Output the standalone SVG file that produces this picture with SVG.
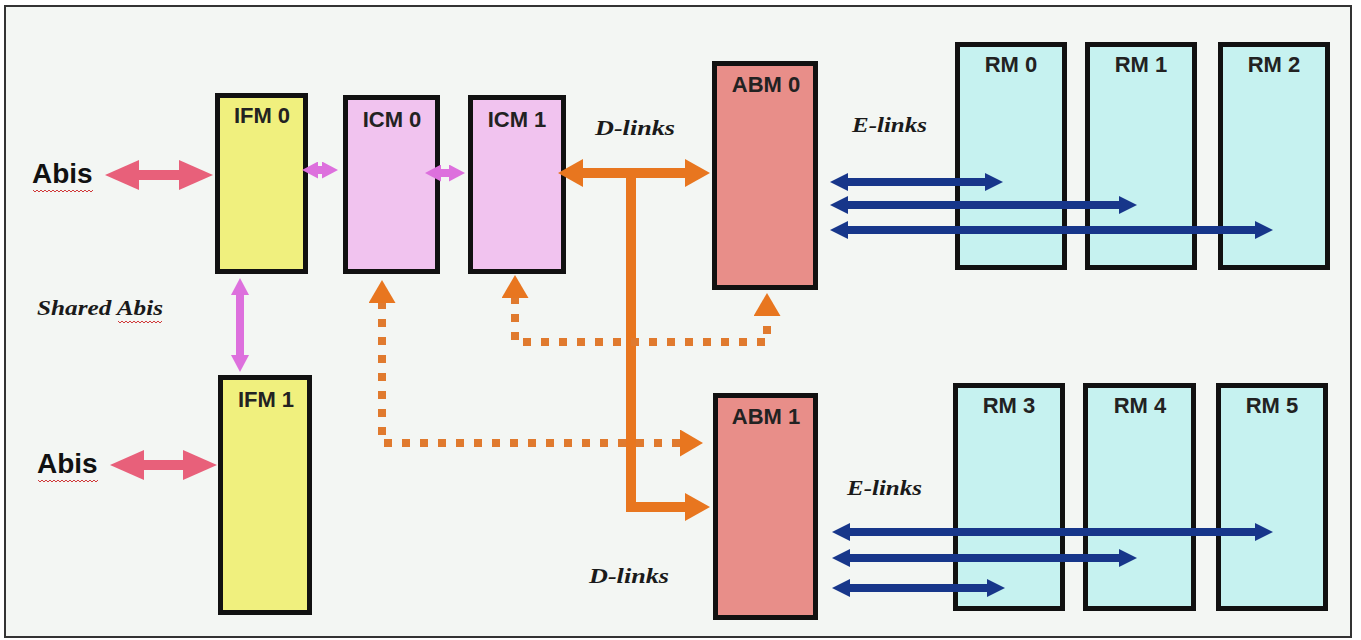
<svg xmlns="http://www.w3.org/2000/svg" width="1361" height="640" viewBox="0 0 1361 640">
<style>
.box{stroke:#111;stroke-width:5}
.ifm{fill:#f0f07e}
.icm{fill:#f1c3ef}
.abm{fill:#e88e89}
.rm{fill:#c6f2f0}
.lbl{font-family:"Liberation Sans",Arial,sans-serif;font-weight:bold;font-size:22px;fill:#222;text-anchor:middle}
.abis{font-family:"Liberation Sans",Arial,sans-serif;font-weight:bold;font-size:28px;fill:#111}
.it{font-family:"Liberation Serif","Times New Roman",serif;font-style:italic;font-weight:bold;font-size:22px;fill:#1a1a1a}
.pink{stroke:#e8607a;stroke-width:10;fill:none}
.vio{stroke:#dd70dd;stroke-width:8;fill:none}
.org{stroke:#e8761f;stroke-width:10;fill:none}
.dot{stroke:#e07a2e;stroke-width:8;fill:none;stroke-dasharray:8 10}
.blue{stroke:#17368a;stroke-width:8;fill:none}
.sq{stroke:#d03a3a;stroke-width:1;fill:none}
</style>
<defs>
<marker id="mPink" markerUnits="userSpaceOnUse" viewBox="0 0 34 30" markerWidth="34" markerHeight="30" refX="3" refY="15" orient="auto-start-reverse"><path d="M0,0 L34,15 L0,30 z" fill="#e8607a"/></marker>
<marker id="mVio" markerUnits="userSpaceOnUse" viewBox="0 0 16 17" markerWidth="16" markerHeight="17" refX="2" refY="8.5" orient="auto-start-reverse"><path d="M0,0 L16,8.5 L0,17 z" fill="#dd70dd"/></marker>
<marker id="mVio2" markerUnits="userSpaceOnUse" viewBox="0 0 17 18" markerWidth="17" markerHeight="18" refX="2" refY="9" orient="auto-start-reverse"><path d="M0,0 L17,9 L0,18 z" fill="#dd70dd"/></marker>
<marker id="mOrg" markerUnits="userSpaceOnUse" viewBox="0 0 25 28" markerWidth="25" markerHeight="28" refX="2" refY="14" orient="auto-start-reverse"><path d="M0,0 L25,14 L0,28 z" fill="#e8761f"/></marker>
<marker id="mDot" markerUnits="userSpaceOnUse" viewBox="0 0 23 27" markerWidth="23" markerHeight="27" refX="2" refY="13.5" orient="auto-start-reverse"><path d="M0,0 L23,13.5 L0,27 z" fill="#e8761f"/></marker>
<marker id="mBlue" markerUnits="userSpaceOnUse" viewBox="0 0 18 18" markerWidth="18" markerHeight="18" refX="2" refY="9" orient="auto-start-reverse"><path d="M0,0 L18,9 L0,18 z" fill="#17368a"/></marker>
</defs>
<rect x="0" y="0" width="1361" height="640" fill="#ffffff"/>
<rect id="frame" x="5" y="6" width="1346" height="631" fill="#f3f6f3" stroke="#333" stroke-width="2"/>

<g id="IFM0"><rect class="box ifm" x="217.5" y="95.5" width="88" height="176"/><text class="lbl" x="262" y="123">IFM 0</text></g>
<g id="IFM1"><rect class="box ifm" x="220.5" y="377.5" width="89" height="235"/><text class="lbl" x="266" y="407">IFM 1</text></g>
<g id="ICM0"><rect class="box icm" x="345.5" y="97.5" width="92" height="174"/><text class="lbl" x="392" y="127">ICM 0</text></g>
<g id="ICM1"><rect class="box icm" x="470.5" y="97.5" width="93" height="174"/><text class="lbl" x="517" y="127">ICM 1</text></g>
<g id="ABM0"><rect class="box abm" x="714.5" y="63.5" width="101" height="224"/><text class="lbl" x="766" y="92">ABM 0</text></g>
<g id="ABM1"><rect class="box abm" x="715.5" y="395.5" width="100" height="222"/><text class="lbl" x="766" y="424">ABM 1</text></g>
<g id="RM0"><rect class="box rm" x="957.5" y="44.5" width="107" height="223"/><text class="lbl" x="1011" y="72">RM 0</text></g>
<g id="RM1"><rect class="box rm" x="1087.5" y="44.5" width="107" height="223"/><text class="lbl" x="1141" y="72">RM 1</text></g>
<g id="RM2"><rect class="box rm" x="1220.5" y="44.5" width="107" height="223"/><text class="lbl" x="1274" y="72">RM 2</text></g>
<g id="RM3"><rect class="box rm" x="955.5" y="385.5" width="107" height="223"/><text class="lbl" x="1009" y="413">RM 3</text></g>
<g id="RM4"><rect class="box rm" x="1085.5" y="385.5" width="108" height="223"/><text class="lbl" x="1140" y="413">RM 4</text></g>
<g id="RM5"><rect class="box rm" x="1218.5" y="385.5" width="107" height="223"/><text class="lbl" x="1272" y="413">RM 5</text></g>

<g id="connectors">
<line class="pink" x1="136" y1="175" x2="182" y2="175" marker-start="url(#mPink)" marker-end="url(#mPink)"/>
<line class="pink" x1="141" y1="465" x2="186" y2="465" marker-start="url(#mPink)" marker-end="url(#mPink)"/>
<line class="vio" x1="316" y1="170" x2="324" y2="170" marker-start="url(#mVio)" marker-end="url(#mVio)"/>
<line class="vio" x1="439" y1="173" x2="451" y2="173" marker-start="url(#mVio)" marker-end="url(#mVio)"/>
<line class="vio" x1="240" y1="293" x2="240" y2="357" marker-start="url(#mVio2)" marker-end="url(#mVio2)"/>
<line class="org" x1="581" y1="173" x2="687" y2="173" marker-start="url(#mOrg)" marker-end="url(#mOrg)"/>
<path class="org" d="M631,173 V507 H687" marker-end="url(#mOrg)"/>
<path class="dot" d="M382,301 V443 H682" marker-start="url(#mDot)" marker-end="url(#mDot)"/>
<path class="dot" d="M515,296 V342 H767 V314" marker-start="url(#mDot)" marker-end="url(#mDot)"/>
<line class="blue" x1="846" y1="182" x2="987" y2="182" marker-start="url(#mBlue)" marker-end="url(#mBlue)"/>
<line class="blue" x1="846" y1="205" x2="1121" y2="205" marker-start="url(#mBlue)" marker-end="url(#mBlue)"/>
<line class="blue" x1="846" y1="230" x2="1257" y2="230" marker-start="url(#mBlue)" marker-end="url(#mBlue)"/>
<line class="blue" x1="848" y1="532" x2="1257" y2="532" marker-start="url(#mBlue)" marker-end="url(#mBlue)"/>
<line class="blue" x1="848" y1="558" x2="1121" y2="558" marker-start="url(#mBlue)" marker-end="url(#mBlue)"/>
<line class="blue" x1="848" y1="588" x2="989" y2="588" marker-start="url(#mBlue)" marker-end="url(#mBlue)"/>
</g>

<g id="labels">
<text class="abis" x="32" y="183">Abis</text>
<path class="sq" d="M33,190 l2,2 2,-2 2,2 2,-2 2,2 2,-2 2,2 2,-2 2,2 2,-2 2,2 2,-2 2,2 2,-2 2,2 2,-2 2,2 2,-2 2,2 2,-2 2,2 2,-2 2,2 2,-2 2,2 2,-2 2,2 2,-2 2,2 2,-2"/>
<text class="abis" x="37" y="473">Abis</text>
<path class="sq" d="M38,480 l2,2 2,-2 2,2 2,-2 2,2 2,-2 2,2 2,-2 2,2 2,-2 2,2 2,-2 2,2 2,-2 2,2 2,-2 2,2 2,-2 2,2 2,-2 2,2 2,-2 2,2 2,-2 2,2 2,-2 2,2 2,-2 2,2 2,-2"/>
<text class="it" x="37" y="315" font-size="21" textLength="126" lengthAdjust="spacingAndGlyphs">Shared Abis</text>
<path class="sq" d="M118,321 l2,2 2,-2 2,2 2,-2 2,2 2,-2 2,2 2,-2 2,2 2,-2 2,2 2,-2 2,2 2,-2 2,2 2,-2 2,2 2,-2 2,2 2,-2 2,2 2,-2"/>
<text class="it" x="595" y="135" textLength="80" lengthAdjust="spacingAndGlyphs">D-links</text>
<text class="it" x="852" y="132" textLength="75" lengthAdjust="spacingAndGlyphs">E-links</text>
<text class="it" x="847" y="495" textLength="75" lengthAdjust="spacingAndGlyphs">E-links</text>
<text class="it" x="589" y="583" textLength="80" lengthAdjust="spacingAndGlyphs">D-links</text>
</g>
</svg>
